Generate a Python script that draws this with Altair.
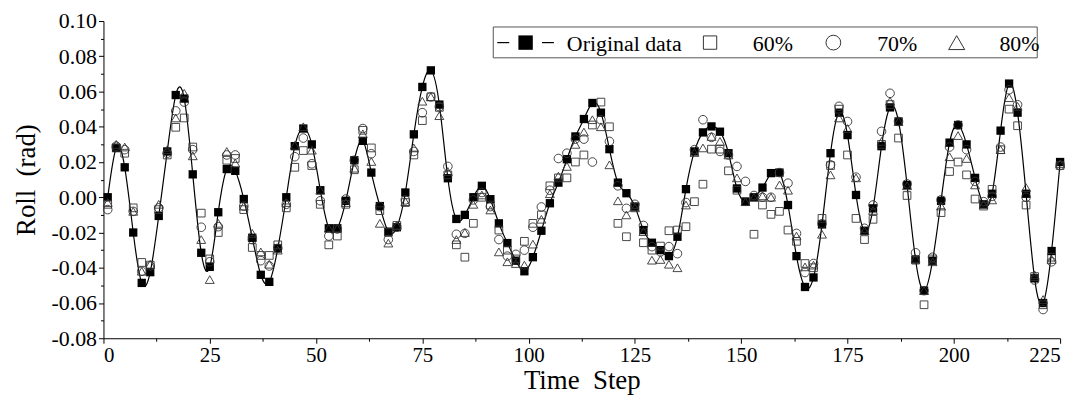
import altair as alt
import pandas as pd

time_step = [1, 3, 5, 7, 9, 11, 13, 15, 17, 19,
             21, 23, 25, 27, 29, 31, 33, 35, 37, 39,
             41, 43, 45, 47, 49, 51, 53, 55, 57, 59,
             61, 63, 65, 67, 69, 71, 73, 75, 77, 79,
             81, 83, 85, 87, 89, 91, 93, 95, 97, 99,
             101, 103, 105, 107, 109, 111, 113, 115, 117, 119,
             121, 123, 125, 127, 129, 131, 133, 135, 137, 139,
             141, 143, 145, 147, 149, 151, 153, 155, 157, 159,
             161, 163, 165, 167, 169, 171, 173, 175, 177, 179,
             181, 183, 185, 187, 189, 191, 193, 195, 197, 199,
             201, 203, 205, 207, 209, 211, 213, 215, 217, 219,
             221, 223, 225]

original = [0.000, 0.028, 0.017, -0.020, -0.0486, -0.0425, -0.0106, 0.026, 0.058, 0.056,
            0.013, -0.0315, -0.0395, -0.0085, 0.016, 0.015, -0.001, -0.023, -0.044, -0.048,
            -0.029, 0.000, 0.029, 0.039, 0.030, 0.004, -0.0176, -0.0176, -0.002, 0.021,
            0.032, 0.014, -0.005, -0.0195, -0.017, 0.0027, 0.0357, 0.0626, 0.072, 0.0526,
            0.0108, -0.0123, -0.010, 0.000, 0.0065, -0.0011, -0.0148, -0.026, -0.036, -0.042,
            -0.034, -0.019, -0.0034, 0.0083, 0.0216, 0.0345, 0.0444, 0.0535, 0.048, 0.0273,
            0.0083, 0.0023, -0.0053, -0.0186, -0.0258, -0.030, -0.0334, -0.0224, 0.0046, 0.026,
            0.0368, 0.0402, 0.0372, 0.025, 0.005, -0.0025, 0.000, 0.0055, 0.0137, 0.014,
            -0.0044, -0.0334, -0.0509, -0.0455, -0.0154, 0.025, 0.048, 0.0353, 0.0013, -0.019,
            -0.0063, 0.029, 0.051, 0.043, 0.007, -0.0353, -0.053, -0.036, -0.002, 0.031,
            0.041, 0.030, 0.011, -0.004, 0.002, 0.0378, 0.0645, 0.048, 0.002, -0.046,
            -0.060, -0.0305, 0.020]

pct60 = [-0.004, 0.028, 0.025, -0.006, -0.037, -0.0385, -0.007, 0.024, 0.0397, 0.045,
         0.0285, -0.009, -0.035, -0.020, 0.021, 0.022, -0.007, -0.0285, -0.033, -0.033,
         -0.027, -0.006, 0.017, 0.0265, 0.018, -0.004, -0.027, -0.022, -0.004, 0.0156,
         0.038, 0.028, -0.0076, -0.020, -0.016, -0.003, 0.024, 0.0435, 0.057, 0.051,
         0.0127, -0.027, -0.034, -0.0148, 0.000, -0.0044, -0.0186, -0.030, -0.035, -0.025,
         -0.0148, -0.010, 0.0065, 0.011, 0.011, 0.020, 0.024, 0.041, 0.054, 0.040,
         -0.0148, -0.0224, -0.0055, -0.0258, -0.030, -0.0277, -0.019, -0.0186, -0.0167, -0.0025,
         0.0074, 0.0273, 0.0273, 0.015, 0.004, -0.0025, -0.021, -0.0044, -0.0097, -0.008,
         -0.0186, -0.025, -0.0376, -0.040, -0.012, 0.018, 0.050, 0.024, -0.012, -0.024,
         -0.0125, 0.030, 0.0526, 0.0336, 0.001, -0.0357, -0.061, -0.035, -0.0087, 0.0146,
         0.020, 0.0127, -0.001, -0.005, 0.0045, 0.027, 0.050, 0.0406, -0.0044, -0.045,
         -0.061, -0.034, 0.018]

pct70 = [-0.007, 0.029, 0.027, -0.008, -0.042, -0.039, -0.006, 0.025, 0.049, 0.054,
         0.027, -0.017, -0.0366, -0.0167, 0.024, 0.024, -0.005, -0.024, -0.036, -0.039,
         -0.029, -0.004, 0.023, 0.0336, 0.019, -0.002, -0.022, -0.018, -0.001, 0.021,
         0.039, 0.0247, -0.0053, -0.024, -0.017, -0.0015, 0.026, 0.048, 0.057, 0.0514,
         0.0175, -0.021, -0.0205, -0.0015, 0.0027, -0.0053, -0.024, -0.0334, -0.0324, -0.030,
         -0.017, -0.0055, 0.004, 0.022, 0.025, 0.033, 0.033, 0.020, 0.044, 0.0317,
         0.0065, -0.0063, -0.004, -0.016, -0.028, -0.031, -0.028, -0.032, -0.003, 0.027,
         0.044, 0.034, 0.026, 0.024, 0.0175, 0.009, 0.001, 0.000, 0.000, 0.014,
         0.008, -0.0205, -0.0427, -0.0376, -0.015, 0.0184, 0.0516, 0.043, 0.0114, -0.0176,
         -0.0044, 0.0374, 0.059, 0.043, 0.0076, -0.0315, -0.053, -0.034, -0.0015, 0.0285,
         0.041, 0.027, 0.009, -0.0025, 0.0005, 0.0285, 0.061, 0.0525, 0.000, -0.047,
         -0.0637, -0.0366, 0.018]

pct80 = [-0.003, 0.030, 0.0285, -0.008, -0.042, -0.038, -0.004, 0.027, 0.045, 0.059,
         0.0235, -0.024, -0.0467, -0.0148, 0.026, 0.0194, -0.005, -0.0205, -0.031, -0.038,
         -0.030, -0.003, 0.0295, 0.040, 0.0267, 0.004, -0.0176, -0.0176, -0.003, 0.0165,
         0.036, 0.0203, -0.0148, -0.026, -0.016, -0.0025, 0.028, 0.0545, 0.057, 0.0463,
         0.0146, -0.024, -0.020, -0.004, 0.0013, -0.0072, -0.031, -0.0366, -0.0376, -0.0385,
         -0.0266, -0.0125, 0.002, 0.012, 0.0175, 0.030, 0.037, 0.044, 0.040, 0.0184,
         -0.002, -0.010, -0.006, -0.0195, -0.0357, -0.0353, -0.038, -0.040, -0.0044, 0.0254,
         0.028, 0.0345, 0.0317, 0.024, 0.011, -0.0025, 0.000, 0.0008, 0.000, 0.007,
         0.004, -0.022, -0.0395, -0.0385, -0.021, 0.0127, 0.045, 0.039, 0.011, -0.019,
         -0.0075, 0.0317, 0.0545, 0.043, 0.0065, -0.0347, -0.053, -0.0366, -0.005, 0.023,
         0.035, 0.022, 0.007, -0.004, -0.0015, 0.027, 0.0565, 0.0516, 0.0055, -0.044,
         -0.058, -0.0353, 0.019]

x_major = [0, 25, 50, 75, 100, 125, 150, 175, 200, 225]
x_minor = [12.5, 37.5, 62.5, 87.5, 112.5, 137.5, 162.5, 187.5, 212.5]
y_major = [-0.08, -0.06, -0.04, -0.02, 0.00, 0.02, 0.04, 0.06, 0.08, 0.10]
y_minor = [-0.07, -0.05, -0.03, -0.01, 0.01, 0.03, 0.05, 0.07, 0.09]

FONT = "Liberation Serif"
INK = "#333333"

def frame(vals):
    return pd.DataFrame({"t": time_step, "v": vals})

xscale = alt.Scale(domain=[0, 225], nice=False, zero=False)
yscale = alt.Scale(domain=[-0.08, 0.10], nice=False, zero=False)

x_axis = alt.Axis(values=x_major, title="Time\u00a0\u00a0Step", grid=False,
                  format="d", tickSize=5, labelPadding=1, titlePadding=3,
                  labelFontSize=21, titleFontSize=27)
y_axis = alt.Axis(values=y_major, title="Roll\u00a0\u00a0(rad)", grid=False,
                  labelExpr="(datum.value < -0.0001 ? '-' : '') + format(abs(datum.value), '.2f')",
                  tickSize=5, labelPadding=2, titlePadding=11,
                  labelFontSize=22, titleFontSize=27)

X = alt.X("t:Q", scale=xscale, axis=x_axis)
Y = alt.Y("v:Q", scale=yscale, axis=y_axis)

line = alt.Chart(frame(original)).mark_line(
    interpolate="natural", color="black", strokeWidth=1.2).encode(x=X, y=Y)
orig_pts = alt.Chart(frame(original)).mark_point(
    shape="square", filled=True, color="black", size=70, opacity=1).encode(x=X, y=Y)
p60 = alt.Chart(frame(pct60)).mark_point(
    shape="square", filled=False, stroke=INK, strokeWidth=0.9, size=60, opacity=1).encode(x=X, y=Y)
p70 = alt.Chart(frame(pct70)).mark_point(
    shape="circle", filled=False, stroke=INK, strokeWidth=0.9, size=75, opacity=1).encode(x=X, y=Y)
p80 = alt.Chart(frame(pct80)).mark_point(
    shape="triangle-up", filled=False, stroke=INK, strokeWidth=0.9, size=80, opacity=1).encode(x=X, y=Y)

# Legend (drawn in pixel space inside the plot area)
one = pd.DataFrame({"k": [0]})
LY = 21.7
legend_layers = [
    alt.Chart(one).mark_rect(fill="white", stroke="#555555", strokeWidth=1).encode(
        x=alt.value(392), x2=alt.value(939), y=alt.value(6), y2=alt.value(37)),
    alt.Chart(one).mark_rule(color="black", strokeWidth=1.2).encode(
        x=alt.value(396), x2=alt.value(408), y=alt.value(LY)),
    alt.Chart(one).mark_rule(color="black", strokeWidth=1.2).encode(
        x=alt.value(441), x2=alt.value(453), y=alt.value(LY)),
    alt.Chart(one).mark_point(shape="square", filled=True, color="black", size=210, opacity=1).encode(
        x=alt.value(424.5), y=alt.value(LY)),
    alt.Chart(one).mark_point(shape="square", filled=False, stroke=INK, strokeWidth=1, size=180, opacity=1).encode(
        x=alt.value(610), y=alt.value(LY)),
    alt.Chart(one).mark_point(shape="circle", filled=False, stroke=INK, strokeWidth=1, size=220, opacity=1).encode(
        x=alt.value(734), y=alt.value(LY)),
    alt.Chart(one).mark_point(shape="triangle-up", filled=False, stroke=INK, strokeWidth=1, size=260, opacity=1).encode(
        x=alt.value(858), y=alt.value(LY)),
]
for lx, txt in [(466, "Original data"), (653, "60%"), (778, "70%"), (901, "80%")]:
    legend_layers.append(
        alt.Chart(one).mark_text(font=FONT, fontSize=22, color="black", align="left",
                                 baseline="middle").encode(
            x=alt.value(lx), y=alt.value(LY + 1), text=alt.value(txt)))

main = alt.layer(line, orig_pts, p60, p70, p80, *legend_layers)

# minor ticks on independent (identical) scales
minor = alt.Chart(frame(original)).mark_point(opacity=0).encode(
    x=alt.X("t:Q", scale=alt.Scale(domain=[0, 225], nice=False, zero=False),
            axis=alt.Axis(values=x_minor, labels=False, title=None, grid=False,
                          domain=False, tickSize=3, orient="bottom")),
    y=alt.Y("v:Q", scale=alt.Scale(domain=[-0.08, 0.10], nice=False, zero=False),
            axis=alt.Axis(values=y_minor, labels=False, title=None, grid=False,
                          domain=False, tickSize=3, orient="left")),
)

chart = alt.layer(main, minor).resolve_scale(x="independent", y="independent").properties(
    width=962, height=319,
    padding={"left": 96, "top": 12, "right": 18, "bottom": 62},
    autosize=alt.AutoSizeParams(type="none"),
).configure_view(stroke=None).configure_axis(
    labelFont=FONT, titleFont=FONT,
    labelColor="black", titleColor="black", titleFontWeight="normal",
    domainColor="black", tickColor="black", domainWidth=1, tickWidth=1,
)

chart.save("out.html", embed_options={"renderer": "svg", "actions": False})
